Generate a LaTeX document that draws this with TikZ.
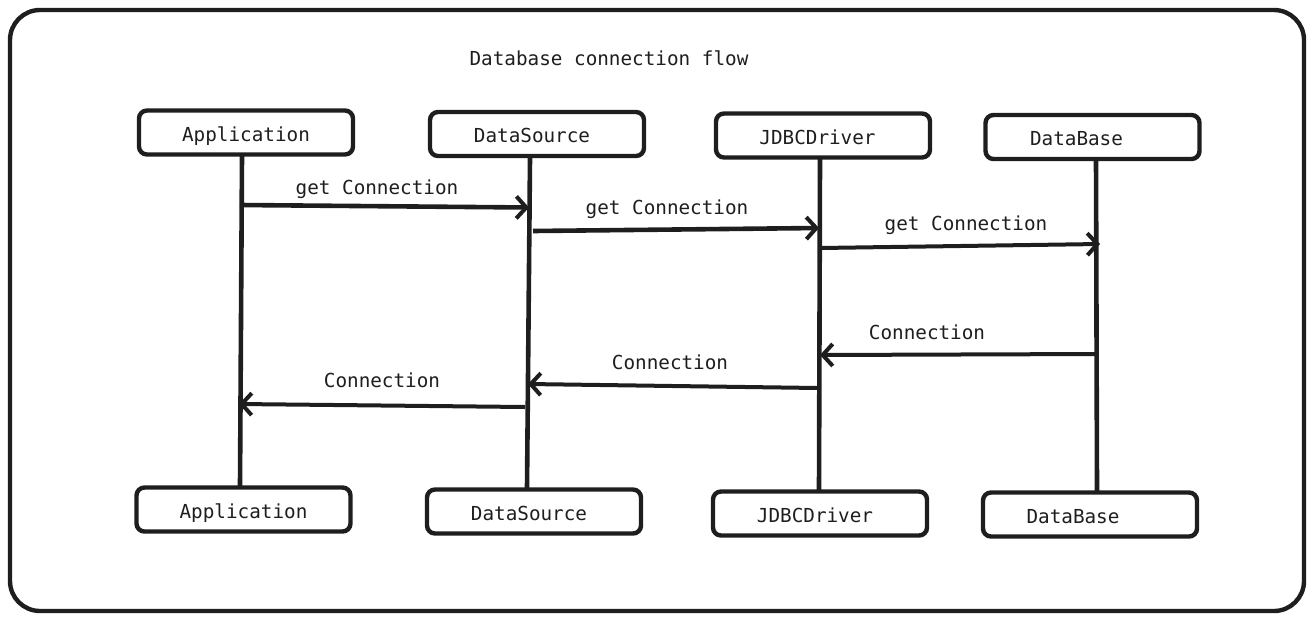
\documentclass[tikz,border=0pt]{standalone}
\usepackage{fontspec}
\setmonofont{DejaVu Sans Mono}
\usetikzlibrary{arrows.meta}
\definecolor{ink}{HTML}{1E1E1E}
\newcommand{\shiftl}[2]{\hspace*{-#1pt}#2}
\begin{document}
\begin{tikzpicture}[x=1pt,y=-1pt,
  every node/.style={font=\ttfamily\fontsize{19.3}{23}\selectfont, text=ink},
  actor/.style={draw=ink, line width=4.4pt, rounded corners=8pt, minimum width=214pt, minimum height=44pt, inner sep=0pt, text height=17pt, text depth=0pt},
  life/.style={draw=ink, line width=4.6pt},
  msg/.style={draw=ink, line width=4.6pt, -{Straight Barb[length=10pt,width=22pt,line width=4pt]}},
  lbl/.style={inner sep=0pt}]
\useasboundingbox (0,0) rectangle (1314,622);
\draw[ink, line width=4.4pt, rounded corners=30pt] (10,10) rectangle (1304,611);
\node[lbl] (title) at (609,58) {Database connection flow};
% top actors
\node[actor] (appT) at (246,132.5) {Application};
\node[actor] (dsT) at (537,134) {\shiftl{10}{DataSource}};
\node[actor] (drvT) at (823,135.5) {\shiftl{11}{JDBCDriver}};
\node[actor] (dbT) at (1092.5,137) {\shiftl{32}{DataBase}};
% bottom actors
\node[actor] (appB) at (243.5,509.5) {Application};
\node[actor] (dsB) at (534,511.5) {\shiftl{10}{DataSource}};
\node[actor] (drvB) at (820,513.5) {\shiftl{10}{JDBCDriver}};
\node[actor] (dbB) at (1090,514.5) {\shiftl{34}{DataBase}};
% lifelines
\draw[life] (242,156) coordinate (appL1) -- (240,486) coordinate (appL2);
\draw[life] (530,158) coordinate (dsL1) -- (527,488) coordinate (dsL2);
\draw[life] (820,159) coordinate (drvL1) -- (819,490) coordinate (drvL2);
\draw[life] (1096,160) coordinate (dbL1) -- (1097,491) coordinate (dbL2);
% messages
\coordinate (m1a) at (240,205); \coordinate (m1b) at (529,207.5);
\coordinate (m2a) at (533,231); \coordinate (m2b) at (819,228);
\coordinate (m3a) at (820,248); \coordinate (m3b) at (1100,244);
\coordinate (m4a) at (1097,354); \coordinate (m4b) at (820,355);
\coordinate (m5a) at (818,388); \coordinate (m5b) at (528,384);
\coordinate (m6a) at (525,407); \coordinate (m6b) at (239,404);
\draw[msg] (m1a) -- (m1b);
\draw[msg] (m2a) -- (m2b);
\draw[msg, line width=4pt] (m3a) -- (m3b);
\draw[msg, line width=4pt] (m4a) -- (m4b);
\draw[msg, line width=4pt] (m5a) -- (m5b);
\draw[msg, line width=4pt] (m6a) -- (m6b);
\node[lbl] (l1) at (377,189) {get Connection};
\node[lbl] (l2) at (667,209) {get Connection};
\node[lbl] (l3) at (966,225) {get Connection};
\node[lbl] (l4) at (927,332) {Connection};
\node[lbl] (l5) at (670,362) {Connection};
\node[lbl] (l6) at (382,380) {Connection};
\end{tikzpicture}
\end{document}
